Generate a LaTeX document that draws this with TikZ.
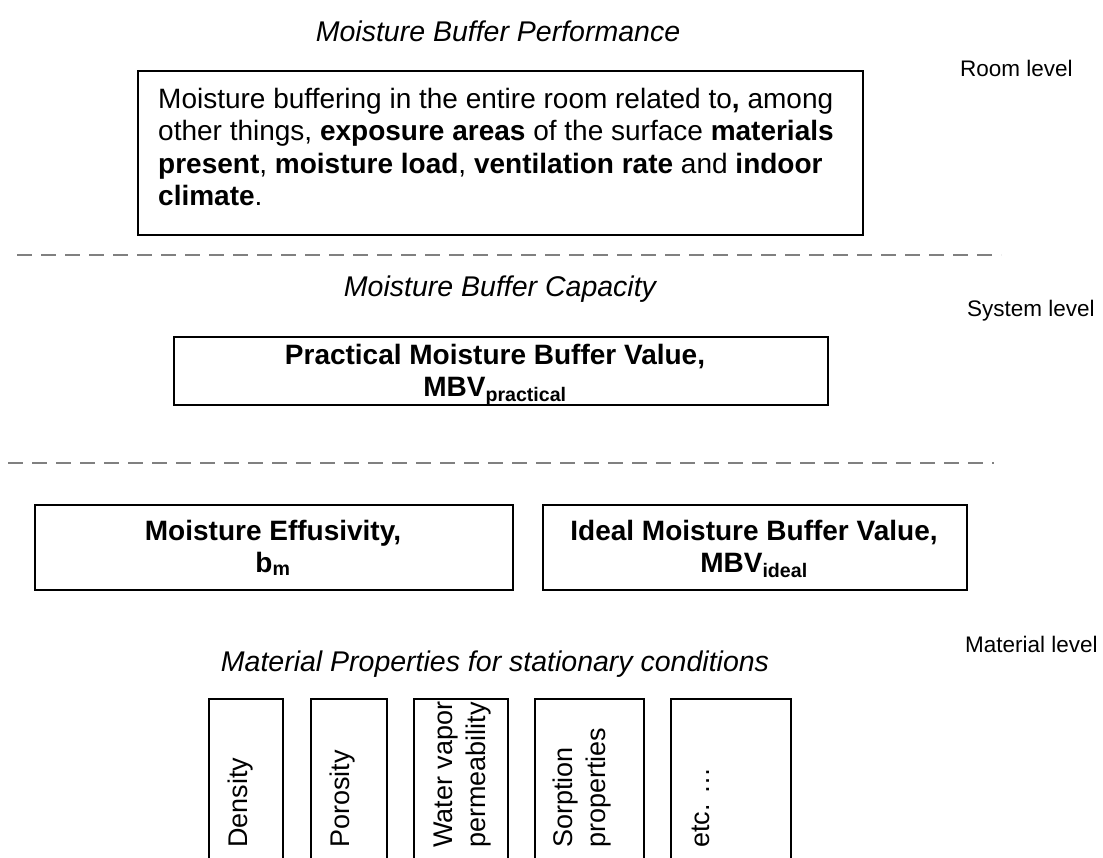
\documentclass[tikz,border=0pt]{standalone}
\usepackage{fontspec}
\setmainfont{Liberation Sans}
\begin{document}
\begin{tikzpicture}[x=1pt,y=-1pt,
  box/.style={draw, line width=1.8pt, inner sep=0pt},
  main/.style={font=\fontsize{28}{32.5}\selectfont, inner sep=0pt},
  bmain/.style={font=\fontsize{28}{32}\selectfont\bfseries, inner sep=0pt, anchor=base, align=center},
  ttl/.style={font=\fontsize{28.5}{32.5}\selectfont\itshape, inner sep=0pt, anchor=base},
  lvl/.style={font=\fontsize{22.5}{27}\selectfont, anchor=base west, inner sep=0pt},
  sepline/.style={draw=black!50, dash pattern=on 15pt off 9pt, line width=2.5pt},
  prop/.style={box, anchor=north west, minimum height=220pt},
  proptext/.style={font=\fontsize{27}{32.5}\selectfont, inner sep=0pt, rotate=90, anchor=base west, align=left}
]
\clip (0,0) rectangle (1103,857);

% Room level
\node[ttl] (t1) at (498,41) {Moisture Buffer Performance};
\node[lvl] (l1) at (960,76) {Room level};
\node[box, anchor=north west, minimum width=725pt, minimum height=164pt] (room) at (137,70) {};
\node[main, anchor=base west, align=left] (roomtext) at (158,205.5)
 {Moisture buffering in the entire room related to\textbf{,} among\\
  other things, \textbf{exposure areas} of the surface \textbf{materials}\\
  \textbf{present}, \textbf{moisture load}, \textbf{ventilation rate} and \textbf{indoor}\\
  \textbf{climate}.};

\coordinate (d1a) at (17,255);
\coordinate (d1b) at (1001,255);
\draw[sepline] (d1a) -- (d1b);

% System level
\node[ttl] (t2) at (500,296) {Moisture Buffer Capacity};
\node[lvl] (l2) at (967,316) {System level};
\node[box, anchor=north west, minimum width=654pt, minimum height=68pt] (prac) at (173,336) {};
\node[bmain] (practext) at (495,396)
 {Practical Moisture Buffer Value,\\MBV\textsubscript{practical}};

\coordinate (d2a) at (8,463);
\coordinate (d2b) at (994,463);
\draw[sepline] (d2a) -- (d2b);

% Material level
\node[box, anchor=north west, minimum width=478pt, minimum height=85pt] (eff) at (34,504) {};
\node[bmain] (efftext) at (273,572) {Moisture Effusivity,\\b\textsubscript{m}};
\node[box, anchor=north west, minimum width=424pt, minimum height=85pt] (ideal) at (542,504) {};
\node[bmain] (idealtext) at (754,572) {Ideal Moisture Buffer Value,\\MBV\textsubscript{ideal}};

\node[lvl] (l3) at (965,652) {Material level};
\node[ttl] (t3) at (495,671) {Material Properties for stationary conditions};

\node[prop, minimum width=74pt] (p1) at (208,698) {};
\node[prop, minimum width=76pt] (p2) at (310,698) {};
\node[prop, minimum width=94pt] (p3) at (413,698) {};
\node[prop, minimum width=109pt] (p4) at (534,698) {};
\node[prop, minimum width=120pt] (p5) at (670,698) {};
\node[proptext] (p1t) at (247,848) {Density};
\node[proptext] (p2t) at (349,848) {Porosity};
\node[proptext] (p3t) at (485,848) {Water vapor\\permeability};
\node[proptext] (p4t) at (605,848) {Sorption\\properties};
\node[proptext] (p5t) at (709,848) {etc. …};
\end{tikzpicture}
\end{document}
